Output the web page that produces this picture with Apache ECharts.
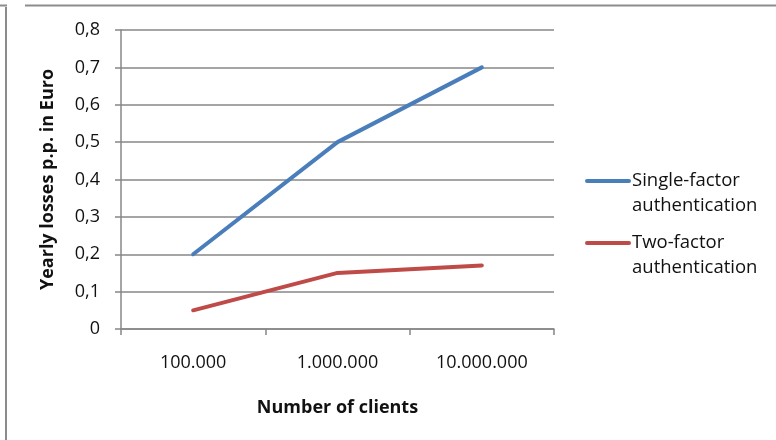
<!DOCTYPE html>
<html>
<head>
<meta charset="utf-8">
<script src="https://cdn.jsdelivr.net/npm/echarts@6/dist/echarts.min.js"></script>
<style>
  html, body { margin: 0; padding: 0; background: #fff; }
  #chart { width: 776px; height: 440px; }
</style>
</head>
<body>
<div id="chart"></div>
<script>
// Client counts on the category axis
const categories = ['100.000', '1.000.000', '10.000.000'];
// Yearly losses per person (Euro)
const singleFactor = [0.2, 0.5, 0.7];
const twoFactor = [0.05, 0.15, 0.17];
const seriesNames = ['Single-factor\nauthentication', 'Two-factor\nauthentication'];
const seriesColors = ['#4a7ebb', '#be4b48'];
const yTicks = { min: 0, max: 0.8, step: 0.1 };

const FONT = '"Open Sans", "Liberation Sans", sans-serif';
const AXIS_GRAY = '#878787';
const TEXT = '#111';

const chart = echarts.init(document.getElementById('chart'), null, { renderer: 'canvas' });

// Legend drawn as graphic items so the swatch lines up with the first text line
const legendItems = [];
seriesNames.forEach((name, i) => {
  const top = 172 + i * 62;
  legendItems.push({
    type: 'line',
    shape: { x1: 587, y1: top + 9, x2: 629, y2: top + 9 },
    style: { stroke: seriesColors[i], lineWidth: 4, lineCap: 'round' }
  });
  legendItems.push({
    type: 'text',
    left: 632,
    top: top - 4,
    style: { text: name, font: '18.5px ' + FONT, fill: TEXT, lineHeight: 25 }
  });
});

const option = {
  backgroundColor: '#fff',
  animation: false,
  grid: { left: 121, right: 222, top: 30, bottom: 111, containLabel: false },
  xAxis: {
    type: 'category',
    data: categories,
    boundaryGap: true,
    name: 'Number of clients',
    nameLocation: 'middle',
    nameGap: 70,
    nameTextStyle: { fontFamily: FONT, fontSize: 18, fontWeight: 'bold', color: TEXT },
    axisLine: { lineStyle: { color: AXIS_GRAY, width: 1.5 } },
    axisTick: { show: true, inside: false, length: 6, interval: 0, lineStyle: { color: AXIS_GRAY, width: 1.5 } },
    axisLabel: { fontFamily: FONT, fontSize: 18, color: TEXT, margin: 25, interval: 0 },
    splitLine: { show: false }
  },
  yAxis: {
    type: 'value',
    min: yTicks.min,
    max: yTicks.max,
    interval: yTicks.step,
    name: 'Yearly losses p.p. in Euro',
    nameLocation: 'middle',
    nameGap: 64,
    nameTextStyle: { fontFamily: FONT, fontSize: 18, fontWeight: 'bold', color: TEXT },
    axisLine: { show: true, lineStyle: { color: AXIS_GRAY, width: 1.5 } },
    axisTick: { show: true, inside: false, length: 6, lineStyle: { color: AXIS_GRAY, width: 1.5 } },
    axisLabel: {
      fontFamily: FONT, fontSize: 18, color: TEXT, margin: 21,
      formatter: v => (v === 0 ? '0' : v.toFixed(1).replace('.', ','))
    },
    splitLine: { show: true, lineStyle: { color: AXIS_GRAY, width: 1.5 } }
  },
  series: [
    {
      name: seriesNames[0],
      type: 'line',
      data: singleFactor,
      showSymbol: false,
      symbol: 'none',
      lineStyle: { color: seriesColors[0], width: 4, cap: 'round', join: 'round' },
      z: 3
    },
    {
      name: seriesNames[1],
      type: 'line',
      data: twoFactor,
      showSymbol: false,
      symbol: 'none',
      lineStyle: { color: seriesColors[1], width: 4, cap: 'round', join: 'round' },
      z: 3
    }
  ],
  graphic: [
    // frame: top and left edges
    { type: 'line', shape: { x1: 0, y1: 5.5, x2: 7, y2: 5.5 }, style: { stroke: '#8c8c8c', lineWidth: 2 } },
    { type: 'line', shape: { x1: 25, y1: 5.5, x2: 776, y2: 5.5 }, style: { stroke: '#8c8c8c', lineWidth: 2 } },
    { type: 'line', shape: { x1: 6, y1: 7, x2: 6, y2: 440 }, style: { stroke: '#8c8c8c', lineWidth: 2 } }
  ].concat(legendItems)
};

chart.setOption(option);
</script>
</body>
</html>
